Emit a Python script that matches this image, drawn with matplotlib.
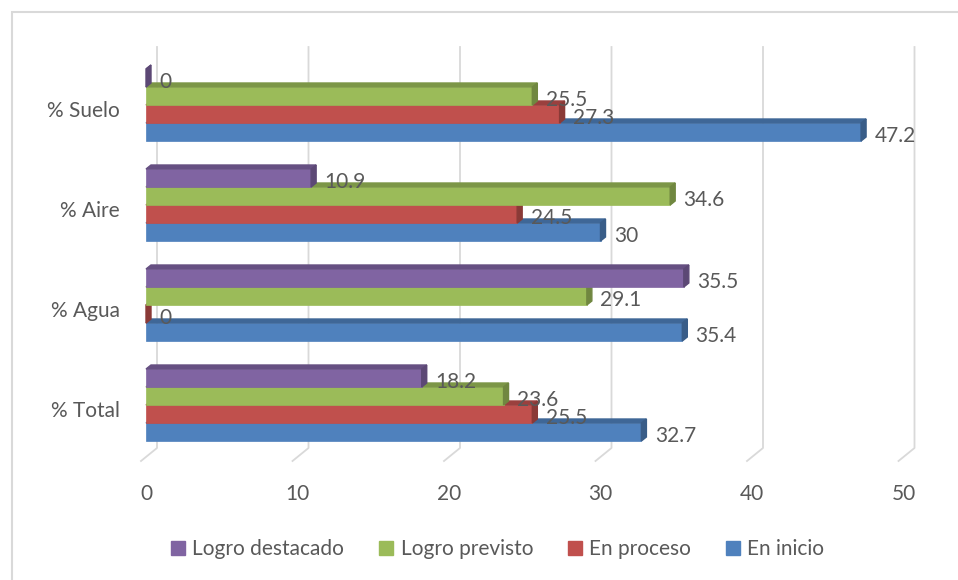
import matplotlib.pyplot as plt
from matplotlib.patches import Polygon, Rectangle
from matplotlib.lines import Line2D
import numpy as np

## datos (de abajo hacia arriba)
categorias = ['% Total', '% Agua', '% Aire', '% Suelo']
series = ['En inicio', 'En proceso', 'Logro previsto', 'Logro destacado']
en_inicio = [32.7, 35.4, 30, 47.2]
en_proceso = [25.5, 0, 24.5, 27.3]
logro_previsto = [23.6, 29.1, 34.6, 25.5]
logro_destacado = [18.2, 35.5, 10.9, 0]
valores = [en_inicio, en_proceso, logro_previsto, logro_destacado]
colores = ['#4F81BD', '#C0504D', '#9BBB59', '#8064A2']
ticks_x = [0, 10, 20, 30, 40, 50]

plt.rcParams['font.family'] = ['Lato', 'DejaVu Sans']
gris = '#595959'
linea = '#D9D9D9'
fs = 15

def oscurecer(c, f=0.72):
    r, g, b = [int(c[i:i + 2], 16) / 255 for i in (1, 3, 5)]
    return (r * f, g * f, b * f)

fig = plt.figure(figsize=(9.58, 5.80), dpi=100)
ax = fig.add_axes([146 / 958, 1 - 455 / 580, 757.5 / 958, 400 / 580])
ax.set_xlim(0, 50)
ax.set_ylim(-0.5, 3.5)
for s in ax.spines.values():
    s.set_visible(False)

# profundidad 3D (unidades de datos)
ddx, ddy = 5 / 15.15, 0.04
alto = 0.18

# rejilla: pared del fondo y suelo
for t in ticks_x:
    ax.plot([t + 0.726, t + 0.726, t - 0.33], [3.58, -0.43, -0.56],
            color=linea, lw=1.3, clip_on=False, zorder=0)

y = np.arange(len(categorias))
desplaz = [-1.5, -0.5, 0.5, 1.5]
for i, (vals, col) in enumerate(zip(valores, colores)):
    yc = y + desplaz[i] * alto
    z = 2 + i
    ax.barh(yc, vals, height=alto, color=col, zorder=z, clip_on=False,
            edgecolor=col, linewidth=0.5)
    for v, c in zip(vals, yc):
        top = c + alto / 2
        bot = c - alto / 2
        # cara superior y cara lateral
        ax.add_patch(Polygon([(0, top), (v, top), (v + ddx, top + ddy), (ddx, top + ddy)],
                             closed=True, color=oscurecer(col, 0.8), zorder=z, clip_on=False))
        ax.add_patch(Polygon([(v, bot), (v, top), (v + ddx, top + ddy), (v + ddx, bot + ddy)],
                             closed=True, color=oscurecer(col), zorder=z, clip_on=False))
        ax.annotate(f'{v:g}', (v + ddx, c), xytext=(6, -3), textcoords='offset points',
                    va='center', ha='left', fontsize=fs, color=gris, zorder=10)

ax.set_yticks(y - 0.04)
ax.set_yticklabels(categorias, fontsize=fs, color=gris)
ax.set_xticks(ticks_x)
ax.set_xticklabels([str(t) for t in ticks_x], fontsize=fs, color=gris)
ax.tick_params(axis='y', length=0, pad=19)
ax.tick_params(axis='x', length=0, pad=21)

# leyenda
manijas = [Line2D([], [], marker='s', linestyle='', markersize=10,
                  markerfacecolor=colores[i], markeredgecolor=colores[i]) for i in (3, 2, 1, 0)]
fig.legend(manijas, [series[i] for i in (3, 2, 1, 0)], loc='center', ncol=4,
           bbox_to_anchor=(497 / 958, 1 - 549 / 580), frameon=False, fontsize=fs,
           labelcolor=gris, handletextpad=0.3, columnspacing=1.6, handlelength=0.8)

# marco exterior
fig.add_artist(Rectangle((12 / 958, -0.5), 2, 1.5 - 12 / 580, transform=fig.transFigure,
                         fill=False, edgecolor=linea, lw=1.5))

fig.savefig('out.png', dpi=100)
